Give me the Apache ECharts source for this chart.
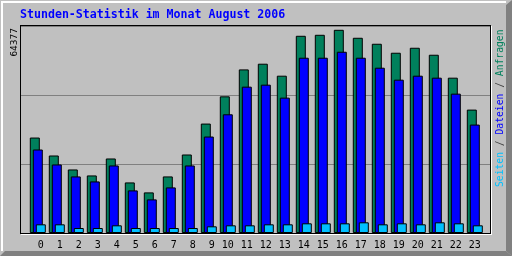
<!DOCTYPE html>
<html>
<head>
<meta charset="utf-8">
<script src="https://cdn.jsdelivr.net/npm/echarts@6/dist/echarts.min.js"></script>
<style>html,body{margin:0;padding:0;background:#C0C0C0}#c{width:512px;height:256px}</style>
</head>
<body>
<div id="c"></div>
<script>
const hours = ['0','1','2','3','4','5','6','7','8','9','10','11','12','13','14','15','16','17','18','19','20','21','22','23'];
const hits  = [30245, 24556, 20132, 18236, 23608, 16023, 12863, 17920, 24872, 34670, 43297, 51830, 53632, 49839, 62481, 62797, 64377, 61849, 59953, 57108, 58689, 56476, 49207, 39094];
const files = [26453, 21712, 17920, 16339, 21396, 13495, 10651, 14443, 21396, 30561, 37609, 46363, 46995, 42887, 55528, 55528, 57424, 55528, 52368, 48575, 49839, 49207, 44151, 34354];
const pages = [2750, 2750, 1580, 1580, 2434, 1580, 1580, 1580, 1580, 2117, 2434, 2434, 2750, 2750, 3066, 3066, 3066, 3382, 2750, 3066, 2750, 3382, 3066, 2434];
const maxLabel = '64377';
const titleText = 'Stunden-Statistik im Monat August 2006';
const legendNames = ['Seiten', 'Dateien', 'Anfragen'];

const C_HITS = '#00805C', C_FILES = '#0000FF', C_PAGES = '#00C0FF';
const yMax = 65581;

const chart = echarts.init(document.getElementById('c'), null, {renderer: 'canvas'});
const mono = 'DejaVu Sans Mono';
function line(x1, y1, x2, y2, color) {
  return {type: 'line', z: 100, shape: {x1, y1, x2, y2}, style: {stroke: color, lineWidth: 1}, silent: true};
}
const barStyle = c => ({color: c, borderColor: '#000', borderWidth: 1});
chart.setOption({
  backgroundColor: '#C0C0C0',
  animation: false,
  grid: [
    {left: 28.3, top: 26, width: 456, height: 207, containLabel: false},
    {left: 20, top: 26, width: 471, height: 207, containLabel: false}
  ],
  xAxis: [{
    type: 'category', data: hours, gridIndex: 0,
    axisLine: {show: false}, axisTick: {show: false},
    axisLabel: {interval: 0, color: '#000', fontFamily: mono, fontSize: 10, margin: 7,
      formatter: v => v.padStart(2, ' ')}
  }, {
    type: 'value', gridIndex: 1, show: false, min: 0, max: 1
  }],
  yAxis: [{
    type: 'value', min: 0, max: yMax, interval: yMax / 3, gridIndex: 0,
    axisLine: {show: false}, axisTick: {show: false}, axisLabel: {show: false},
    splitLine: {show: false}
  }, {
    type: 'value', min: 0, max: yMax, interval: yMax / 3, gridIndex: 1,
    axisLine: {show: false}, axisTick: {show: false}, axisLabel: {show: false},
    splitLine: {show: true, lineStyle: {color: '#808080', width: 1}}
  }],
  series: [
    {name: legendNames[2], type: 'bar', data: hits, barWidth: 10, barGap: '-70%', itemStyle: barStyle(C_HITS), z: 3},
    {name: legendNames[1], type: 'bar', data: files, barWidth: 10, barGap: '-70%', itemStyle: barStyle(C_FILES), z: 3},
    {name: legendNames[0], type: 'bar', data: pages, barWidth: 10, barGap: '-70%', itemStyle: barStyle(C_PAGES), z: 3}
  ],
  graphic: [
    // outer bevel
    {type: 'rect', z: 100, shape: {x: 1, y: 1, width: 505, height: 2}, style: {fill: '#FFFFFF'}},
    {type: 'rect', z: 100, shape: {x: 1, y: 1, width: 2, height: 250}, style: {fill: '#FFFFFF'}},
    {type: 'polygon', z: 100, shape: {points: [[506, 5], [512, 0], [512, 256], [506, 251]]}, style: {fill: '#808080'}},
    {type: 'polygon', z: 100, shape: {points: [[0, 256], [5, 251], [506, 251], [512, 256]]}, style: {fill: '#808080'}},
    // plot frame
    line(20, 25.5, 491, 25.5, '#000'),
    line(20.5, 25, 20.5, 234, '#000'),
    line(20, 233.5, 491, 233.5, '#000'),
    line(490.5, 25, 490.5, 234, '#000'),
    line(21, 234.5, 492, 234.5, '#FFFFFF'),
    line(491.5, 26, 491.5, 235, '#FFFFFF'),
    // title
    {type: 'text', z: 100, x: 20, y: 14.5, style: {text: titleText, fill: '#0000FF',
      font: 'bold 11.6px "DejaVu Sans Mono"', textAlign: 'left', textVerticalAlign: 'middle'}},
    // max label
    {type: 'text', z: 100, x: 15, y: 28, rotation: Math.PI / 2, style: {text: maxLabel, fill: '#000',
      font: '9.5px "DejaVu Sans Mono"', textAlign: 'right', textVerticalAlign: 'middle'}},
    // legend
    {type: 'text', z: 100, x: 500.5, y: 187, rotation: Math.PI / 2, style: {
      text: '{p|' + legendNames[0] + '}{s| / }{f|' + legendNames[1] + '}{s| / }{h|' + legendNames[2] + '}',
      font: '9.7px "DejaVu Sans Mono"', textAlign: 'left', textVerticalAlign: 'middle',
      rich: {
        p: {fill: C_PAGES, font: '9.7px "DejaVu Sans Mono"'},
        f: {fill: C_FILES, font: '9.7px "DejaVu Sans Mono"'},
        h: {fill: C_HITS, font: '9.7px "DejaVu Sans Mono"'},
        s: {fill: '#404040', font: '9.7px "DejaVu Sans Mono"'}
      }}}
  ]
});
</script>
</body>
</html>
